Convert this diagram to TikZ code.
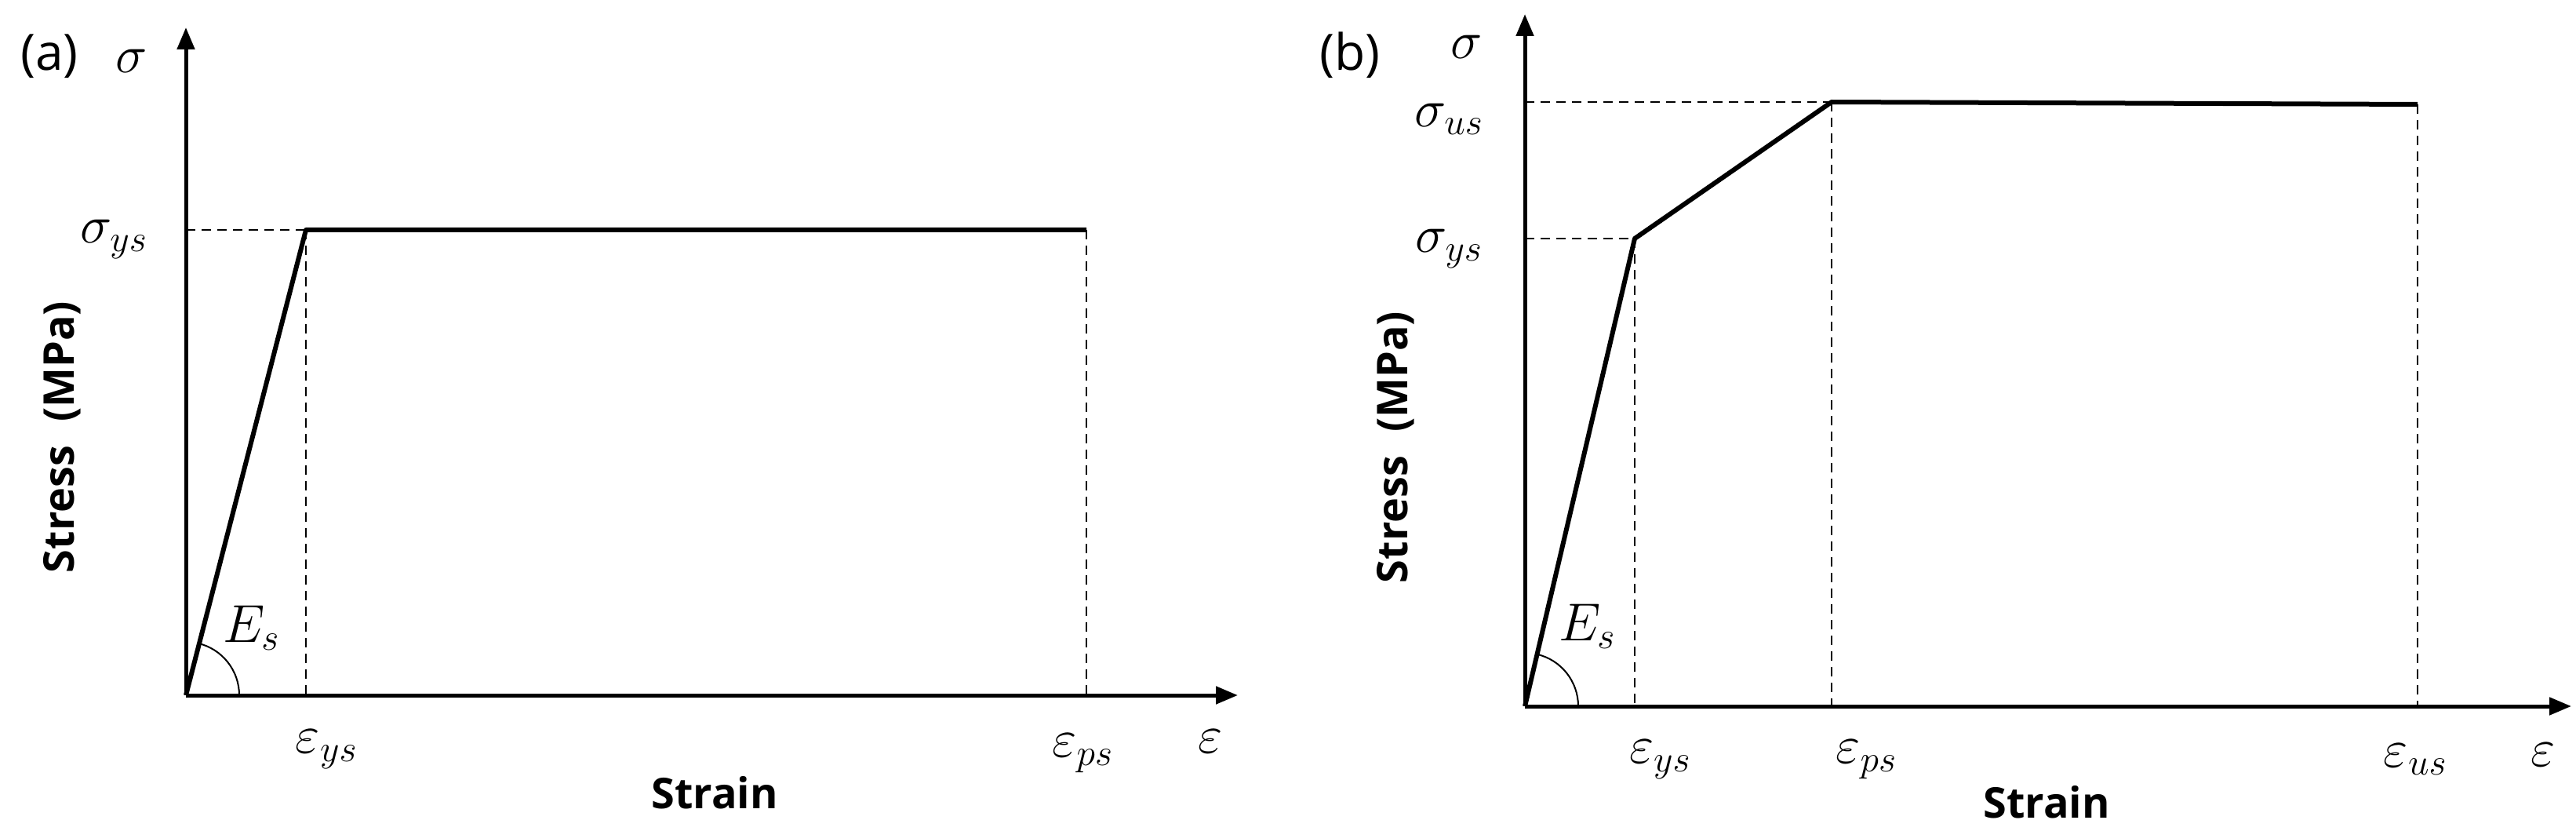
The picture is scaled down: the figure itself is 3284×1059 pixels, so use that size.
\RequirePackage{fix-cm}
\documentclass[tikz,border=0pt]{standalone}
\usepackage{fontspec}
\setsansfont{Open Sans}
\usetikzlibrary{arrows.meta}
\begin{document}
\begin{tikzpicture}[x=1pt,y=-1pt,
  axis/.style={line width=5pt,-{Triangle[length=28pt,width=22pt]}},
  curve/.style={line width=6pt,line join=round},
  guide/.style={line width=2pt,dash pattern=on 12pt off 8pt},
  mlab/.style={font=\fontsize{68}{76}\selectfont,inner sep=0pt},
  slab/.style={font=\sffamily\bfseries\fontsize{54}{60}\selectfont,inner sep=0pt},
  plab/.style={font=\sffamily\fontsize{64}{70}\selectfont,inner sep=0pt}]
\useasboundingbox (0,0) rectangle (3284,1059);
% ---- panel (a)
\coordinate (Ao) at (237,886);
\coordinate (Ay) at (237,35);
\coordinate (Ax) at (1578,886);
\coordinate (Ayp) at (390,293);
\coordinate (Ape) at (1385,293);
\coordinate (Aya) at (237,293);
\coordinate (Ayx) at (390,886);
\coordinate (Apx) at (1385,886);
\draw[guide] (Aya) -- (Ayp);
\draw[guide] (Ayp) -- (Ayx);
\draw[guide] (Ape) -- (Apx);
\draw[axis] (Ao) -- (Ay);
\draw[axis] (Ao) -- (Ax);
\draw[curve] (Ao) -- (Ayp) -- (Ape);
\draw[line width=2pt] ([xshift=68pt]Ao) arc[start angle=0,end angle=77,radius=68pt];
\node[plab] (Alab) at (63,72) {(a)};
\node[mlab] (Asig) at (168,78) {$\sigma$};
\node[mlab] (Asys) at (145,305) {$\sigma_{ys}$};
\node[mlab] (AEs) at (320,800) {$E_s$};
\node[mlab] (Aeys) at (416,955) {$\varepsilon_{ys}$};
\node[mlab] (Aeps) at (1380,960) {$\varepsilon_{ps}$};
\node[mlab] (Aeps0) at (1543,945) {$\varepsilon$};
\node[slab] (Astrain) at (911,1010) {Strain};
\node[slab,rotate=90] (Astress) at (79,557) {Stress\;\;(MPa)};
% ---- panel (b)
\coordinate (Bo) at (1944,900);
\coordinate (By) at (1944,18);
\coordinate (Bx) at (3278,900);
\coordinate (Byp) at (2084,304);
\coordinate (Bup) at (2335,130);
\coordinate (Bue) at (3082,133);
\coordinate (Bya) at (1944,304);
\coordinate (Bua) at (1944,130);
\coordinate (Byx) at (2084,900);
\coordinate (Bpx) at (2335,900);
\coordinate (Bux) at (3082,900);
\draw[guide] (Bya) -- (Byp);
\draw[guide] (Bua) -- (Bup);
\draw[guide] (Byp) -- (Byx);
\draw[guide] (Bup) -- (Bpx);
\draw[guide] (Bue) -- (Bux);
\draw[axis] (Bo) -- (By);
\draw[axis] (Bo) -- (Bx);
\draw[curve] (Bo) -- (Byp) -- (Bup) -- (Bue);
\draw[line width=2pt] ([xshift=68pt]Bo) arc[start angle=0,end angle=77,radius=68pt];
\node[plab] (Blab) at (1721,70) {(b)};
\node[mlab] (Bsig) at (1870,60) {$\sigma$};
\node[mlab] (Bsus) at (1847,152) {$\sigma_{us}$};
\node[mlab] (Bsys) at (1847,317) {$\sigma_{ys}$};
\node[mlab] (BEs) at (2023,798) {$E_s$};
\node[mlab] (Beys) at (2116,968) {$\varepsilon_{ys}$};
\node[mlab] (Beps) at (2379,968) {$\varepsilon_{ps}$};
\node[mlab] (Beus) at (3079,968) {$\varepsilon_{us}$};
\node[mlab] (Beps0) at (3242,962) {$\varepsilon$};
\node[slab] (Bstrain) at (2609,1022) {Strain};
\node[slab,rotate=90] (Bstress) at (1779,570) {Stress\;\;(MPa)};
\end{tikzpicture}
\end{document}
